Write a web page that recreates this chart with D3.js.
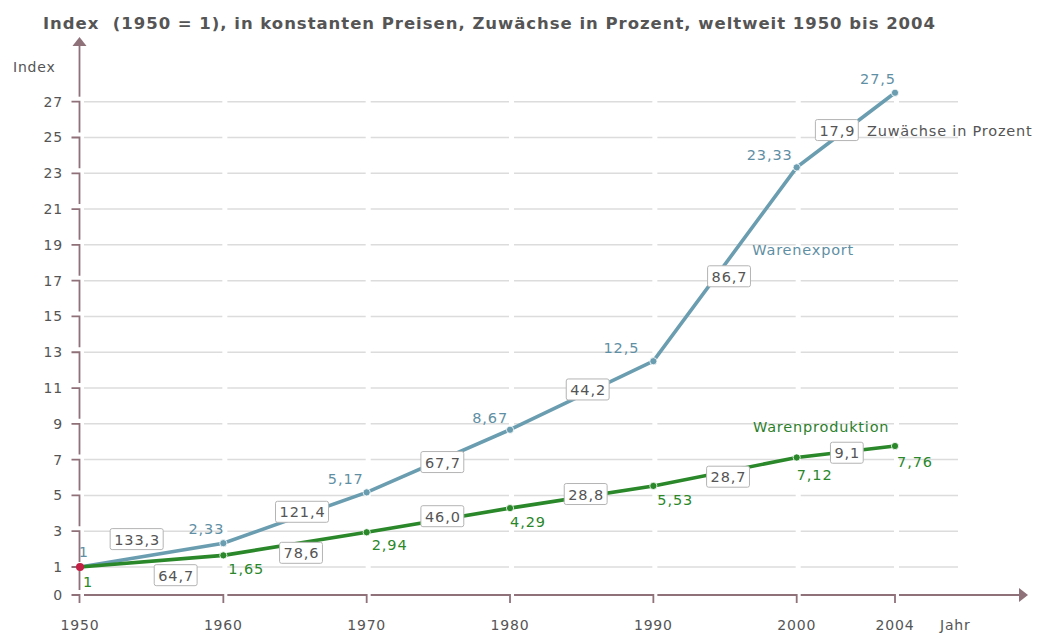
<!DOCTYPE html>
<html lang="de">
<head>
  <meta charset="UTF-8" />
  <title>Warenexport und Warenproduktion 1950 bis 2004</title>
  <script src="https://d3js.org/d3.v7.min.js"></script>
  <style>
    body {
      margin: 0;
      background: #fff;
      font-family: "DejaVu Sans", sans-serif;
    }
    svg text {
      font-family: "DejaVu Sans", sans-serif;
    }
  </style>
</head>
<body>

<svg id="chart"></svg>

<script>
// data
const years = [1950, 1960, 1970, 1980, 1990, 2000, 2004];
const exportIndex = [1, 2.33, 5.17, 8.67, 12.5, 23.33, 27.5];
const productionIndex = [1, 1.65, 2.94, 4.29, 5.53, 7.12, 7.76];
const exportGrowth = [133.3, 121.4, 67.7, 44.2, 86.7, 17.9];
const productionGrowth = [64.7, 78.6, 46.0, 28.8, 28.7, 9.1];
const yTicks = [0, 1, 3, 5, 7, 9, 11, 13, 15, 17, 19, 21, 23, 25, 27];

const titleText = "Index  (1950 = 1), in konstanten Preisen, Zuwächse in Prozent, weltweit 1950 bis 2004";

// label placement (pixel nudges, layout only)
const exportBoxNudge = [[-15, -16], [7, -6], [4, 1], [6, -6], [4, 12], [-9, 0]];
const prodBoxNudge = [[24, 14], [6, 9], [4, -4], [4, -3], [3, 5], [1, 1]];
const exportLabelNudge = [[9, -10], [1, -9], [-3, -8], [-2, -7], [-14, -8], [-4, -7], [1, -9]];
const prodLabelNudge = [[3, 20], [5, 19], [5, 18], [0, 19], [4, 19], [0, 23], [2, 21]];

const seriesNotes = [
  {text: "Warenexport", year: 1996.9, value: 18.43, color: "#5f8fa4"},
  {text: "Warenproduktion", year: 1996.95, value: 8.54, color: "#2c7f2c"},
  {text: "Zuwächse in Prozent", year: 2002.86, value: 25.08, color: "#555"}
];

const W = 1043, H = 641;
const axisColor = "#8f717a";
const exportColor = "#6a9db0";
const prodColor = "#2a872a";
const textColor = "#555";

const svg = d3.select("#chart").attr("width", W).attr("height", H);

// piecewise scales like the original (2000-2004 is stretched, 0-1 too)
const x = d3.scaleLinear().domain([1950, 2000, 2004]).range([80, 796.7, 895]);
const y = d3.scaleLinear().domain([0, 1, 27]).range([595, 567, 101.7]);

const fmt = v => String(v).replace(".", ",");
const fmt1 = v => d3.format(".1f")(v).replace(".", ",");

// title
svg.append("text")
  .attr("x", 43).attr("y", 29)
  .attr("font-size", 16.5).attr("font-weight", "bold")
  .attr("fill", textColor)
  .attr("textLength", 892).attr("lengthAdjust", "spacing")
  .style("white-space", "pre")
  .text(titleText);

// grid lines, broken at every year tick
const grid = svg.append("g").attr("stroke", "#dcdcdc").attr("stroke-width", 1.5);
const gridEnd = 958;
yTicks.filter(t => t > 0).forEach(t => {
  years.forEach((yr, i) => {
    const x0 = x(yr) + 4;
    const x1 = i < years.length - 1 ? x(years[i + 1]) - 1 : gridEnd;
    grid.append("line")
      .attr("x1", x0).attr("x2", x1)
      .attr("y1", y(t)).attr("y2", y(t));
  });
});

// y axis made of little "┐" pieces
const ax = svg.append("g").attr("fill", "none").attr("stroke", axisColor).attr("stroke-width", 1.8);
const x0 = x(1950) - 0.5;
ax.append("path").attr("d", `M${x0},44 V${y(27) - 5}`);
yTicks.slice().reverse().forEach((t, i, arr) => {
  const yEnd = i < arr.length - 1 ? y(arr[i + 1]) - 5 : y(0) + 8;
  ax.append("path").attr("d", `M${x0 - 8},${y(t)} H${x0} V${yEnd}`);
});
svg.append("path")
  .attr("d", `M${x0},37 L${x0 + 7},46 L${x0 - 7},46 Z`)
  .attr("fill", axisColor);

// x axis pieces
years.forEach((yr, i) => {
  const xs = x(yr) + 4;
  if (i < years.length - 1) {
    ax.append("path").attr("d", `M${xs},${y(0)} H${x(years[i + 1])} V${y(0) + 8}`);
  } else {
    ax.append("path").attr("d", `M${xs},${y(0)} H1020`);
  }
});
svg.append("path")
  .attr("d", `M1028,${y(0)} L1019,${y(0) - 7} L1019,${y(0) + 7} Z`)
  .attr("fill", axisColor);

// tick labels
const tickText = svg.append("g")
  .attr("font-size", 14).attr("fill", textColor)
  .attr("letter-spacing", 0.8);

tickText.selectAll(".ytick")
  .data(yTicks)
  .enter().append("text")
  .attr("x", 63).attr("y", d => y(d) + 5)
  .attr("text-anchor", "end")
  .text(d => d);

tickText.selectAll(".xtick")
  .data(years)
  .enter().append("text")
  .attr("x", d => x(d)).attr("y", 630)
  .attr("text-anchor", "middle")
  .text(d => d);

tickText.append("text").attr("x", 13).attr("y", 72).text("Index");
tickText.append("text").attr("x", 940).attr("y", 630).text("Jahr");

// lines
const line = d3.line().x(d => x(d[0])).y(d => y(d[1]));
const exportPts = years.map((yr, i) => [yr, exportIndex[i]]);
const prodPts = years.map((yr, i) => [yr, productionIndex[i]]);

svg.append("path").datum(exportPts)
  .attr("d", line).attr("fill", "none")
  .attr("stroke", exportColor).attr("stroke-width", 3.6);
svg.append("path").datum(prodPts)
  .attr("d", line).attr("fill", "none")
  .attr("stroke", prodColor).attr("stroke-width", 3.6);

function dots(pts, color) {
  svg.append("g").selectAll("circle")
    .data(pts.slice(1))
    .enter().append("circle")
    .attr("cx", d => x(d[0])).attr("cy", d => y(d[1]))
    .attr("r", 3.6)
    .attr("fill", color)
    .attr("stroke", "#fff").attr("stroke-width", 0.8);
}
dots(exportPts, exportColor);
dots(prodPts, prodColor);

svg.append("circle")
  .attr("cx", x(1950)).attr("cy", y(1))
  .attr("r", 4).attr("fill", "#c42045");

// value labels at the points
svg.append("g").selectAll("text")
  .data(exportPts)
  .enter().append("text")
  .attr("x", (d, i) => x(d[0]) + exportLabelNudge[i][0])
  .attr("y", (d, i) => y(d[1]) + exportLabelNudge[i][1])
  .attr("text-anchor", "end")
  .attr("font-size", 14.5).attr("letter-spacing", 0.9)
  .attr("fill", "#5f8fa4")
  .text(d => fmt(d[1]));

svg.append("g").selectAll("text")
  .data(prodPts)
  .enter().append("text")
  .attr("x", (d, i) => x(d[0]) + prodLabelNudge[i][0])
  .attr("y", (d, i) => y(d[1]) + prodLabelNudge[i][1])
  .attr("text-anchor", "start")
  .attr("font-size", 14.5).attr("letter-spacing", 0.9)
  .attr("fill", prodColor)
  .text(d => fmt(d[1]));

// growth boxes at segment middles
function growthBoxes(pts, growth, nudge) {
  const g = svg.append("g");
  growth.forEach((v, i) => {
    const cx = (x(pts[i][0]) + x(pts[i + 1][0])) / 2 + nudge[i][0];
    const cy = (y(pts[i][1]) + y(pts[i + 1][1])) / 2 + nudge[i][1];
    const box = g.append("g");
    const rect = box.append("rect");
    const t = box.append("text")
      .attr("x", cx + 0.5).attr("y", cy + 5.5)
      .attr("text-anchor", "middle")
      .attr("font-size", 14.5).attr("letter-spacing", 0.9)
      .attr("fill", textColor)
      .text(fmt1(v));
    const bw = t.node().getComputedTextLength() + 7;
    rect.attr("x", cx - bw / 2).attr("y", cy - 10.5)
      .attr("width", bw).attr("height", 21)
      .attr("rx", 2)
      .attr("fill", "#fff").attr("stroke", "#b4b4b4").attr("stroke-width", 1);
  });
}
growthBoxes(exportPts, exportGrowth, exportBoxNudge);
growthBoxes(prodPts, productionGrowth, prodBoxNudge);

// series notes
svg.append("g").selectAll("text")
  .data(seriesNotes)
  .enter().append("text")
  .attr("x", d => x(d.year)).attr("y", d => y(d.value))
  .attr("font-size", 14.5).attr("letter-spacing", 0.8)
  .attr("fill", d => d.color)
  .text(d => d.text);
</script>
</body>
</html>
